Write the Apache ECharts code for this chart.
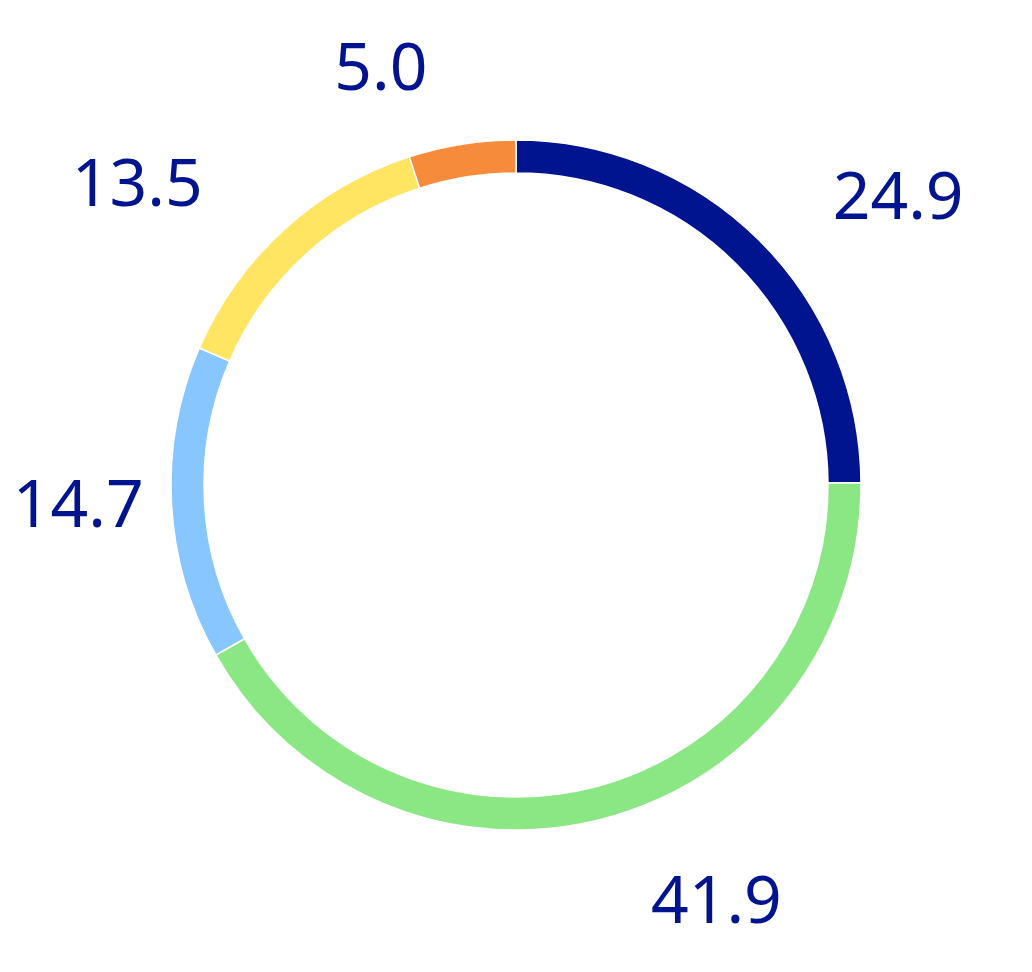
<!DOCTYPE html>
<html>
<head>
<meta charset="utf-8">
<script src="https://cdn.jsdelivr.net/npm/echarts@6/dist/echarts.min.js"></script>
<style>
html,body{margin:0;padding:0;background:#fff;}
#chart{width:1032px;height:972px;}
</style>
</head>
<body>
<div id="chart"></div>
<script>
// Data
var categories = ['A', 'B', 'C', 'D', 'E'];
var values = [24.9, 41.9, 14.7, 13.5, 5.0];
var colors = ['#001490', '#8BE684', '#87C6FE', '#FFE562', '#F68C3B'];
// label line lengths (styling, used only to place outside labels)
var labelLen = [56, 89, 97, 58, 74];
var labelLen2 = [29, 18, -74, 37, 18];

var chart = echarts.init(document.getElementById('chart'), null, {renderer: 'canvas'});
var data = values.map(function (v, i) {
  return {
    name: categories[i],
    value: v,
    itemStyle: {color: colors[i]},
    labelLine: {show: false, length: labelLen[i], length2: labelLen2[i]}
  };
});
chart.setOption({
  animation: false,
  backgroundColor: '#ffffff',
  series: [{
    type: 'pie',
    center: [516, 485],
    radius: [312, 345],
    startAngle: 90,
    clockwise: true,
    avoidLabelOverlap: false,
    itemStyle: {borderColor: '#ffffff', borderWidth: 1.5},
    label: {
      show: true,
      position: 'outside',
      formatter: function (p) { return p.value.toFixed(1); },
      fontFamily: 'Noto Sans',
      fontSize: 66,
      color: '#001490',
      distanceToLabelLine: 5
    },
    labelLine: {show: false},
    emphasis: {disabled: true},
    data: data
  }]
});
</script>
</body>
</html>
